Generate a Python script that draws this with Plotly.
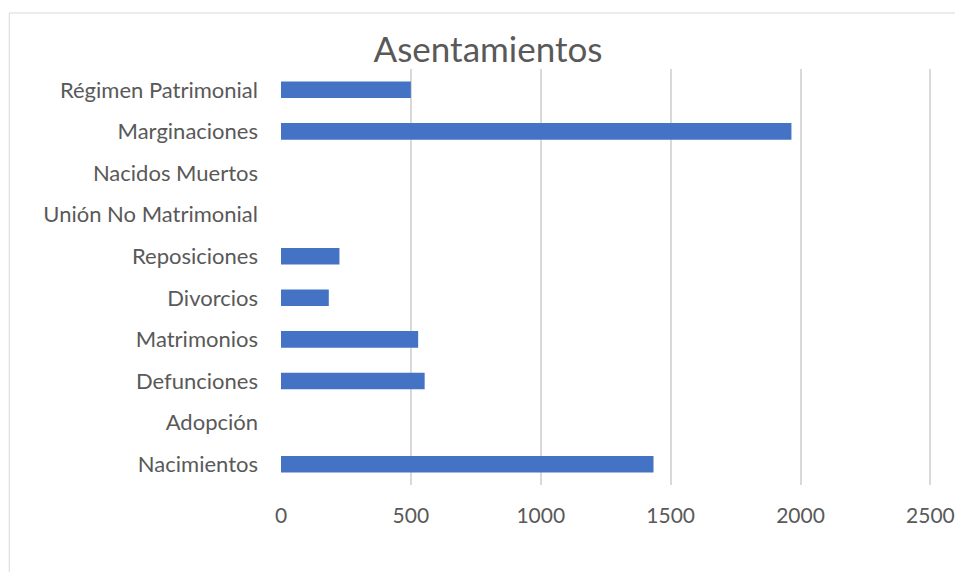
import plotly.graph_objects as go

categories = ["Nacimientos", "Adopción", "Defunciones", "Matrimonios", "Divorcios",
              "Reposiciones", "Unión No Matrimonial", "Nacidos Muertos",
              "Marginaciones", "Régimen Patrimonial"]
values = [1434, 0, 553, 528, 184, 225, 0, 0, 1965, 500]
x_ticks = [0, 500, 1000, 1500, 2000, 2500]

# page body has an 8px margin; figure coordinates = screen coordinates - 8
OFF = 8
W, H = 963 - 2 * OFF, 580 - 2 * OFF
L = 280.5 - OFF
T = 69 - OFF
R = W - (933.1 - OFF)
B = H - (485 - OFF)
PW, PH = W - L - R, H - T - B

FONT = "Lato"

fig = go.Figure(go.Bar(
    y=categories, x=values, orientation="h",
    marker=dict(color="#4472C4", line=dict(width=0)),
))

fig.update_layout(
    width=W, height=H,
    margin=dict(l=L, r=R, t=T, b=B, autoexpand=False),
    paper_bgcolor="white", plot_bgcolor="white",
    bargap=0.6,
    showlegend=False,
    title=dict(text="Asentamientos", x=(488 - OFF) / W, xref="container", xanchor="center",
               y=1 - (50 - OFF) / H, yref="container", yanchor="middle",
               font=dict(family=FONT, size=35, color="#595959")),
    font=dict(family=FONT, color="#595959"),
    shapes=[dict(type="rect", xref="paper", yref="paper",
                 x0=-(L - 0.5) / PW, x1=(W - L + 20) / PW,
                 y0=-(B + 20) / PH, y1=1 + (T - 5) / PH,
                 line=dict(color="#d9d9d9", width=1), fillcolor="rgba(0,0,0,0)", layer="below")],
)

fig.update_xaxes(
    range=[0, 2510], tickvals=x_ticks, ticktext=[str(v) for v in x_ticks],
    showgrid=True, gridcolor="#d9d9d9", gridwidth=1.5,
    zeroline=False, showline=False, ticks="",
    tickfont=dict(family=FONT, size=21, color="#595959"),
    ticklabelstandoff=16, ticklabeloverflow="allow",
)
fig.update_yaxes(
    categoryorder="array", categoryarray=categories,
    showgrid=False, zeroline=False, showline=False, ticks="",
    tickfont=dict(family=FONT, size=22, color="#595959"),
    ticklabelstandoff=22,
)

fig.write_html("out.html")
